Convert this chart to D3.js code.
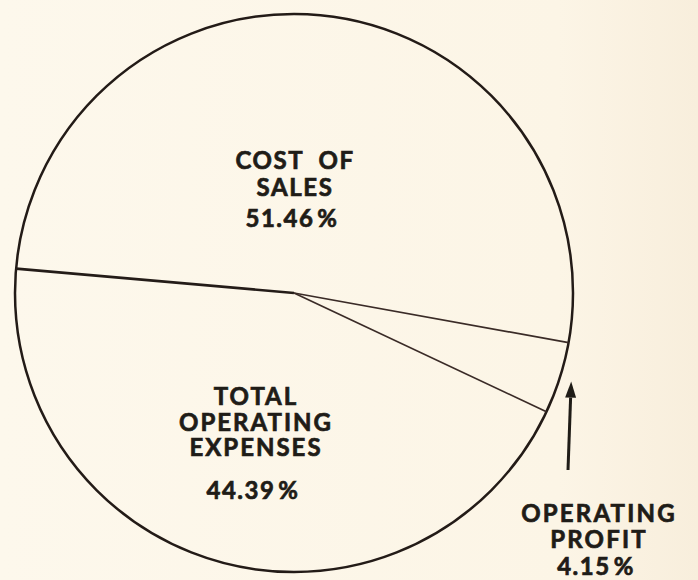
<!DOCTYPE html>
<html>
<head>
<meta charset="utf-8">
<script src="https://cdn.jsdelivr.net/npm/d3@7/dist/d3.min.js"></script>
<style>
  html, body { margin: 0; padding: 0; background: #fcf6e9; }
  svg { display: block; }
  text { font-family: Lato, "Open Sans", sans-serif; font-weight: 700; fill: #1f1c17; stroke: #1f1c17; stroke-width: 0.7; white-space: pre; }
</style>
</head>
<body>
<svg id="chart" width="698" height="580"></svg>
<script>
// Share of sales (percent), in clockwise order from the left boundary
const categories = ["Cost of Sales", "Operating Profit", "Total Operating Expenses"];
const shares = [51.46, 4.15, 44.39];
const labelLines = [["COST  OF", "SALES"], ["OPERATING", "PROFIT"], ["TOTAL", "OPERATING", "EXPENSES"]];

const W = 698, H = 580;
const cx = 294, cy = 293, R = 279;
const startDeg = 275;

const svg = d3.select("#chart");

// paper tone, slightly darker towards the right edge
const defs = svg.append("defs");
const grad = defs.append("linearGradient").attr("id", "paper").attr("x1", "0").attr("x2", "1");
grad.append("stop").attr("offset", "0").attr("stop-color", "#fdf8ec");
grad.append("stop").attr("offset", "0.8").attr("stop-color", "#fcf5e6");
grad.append("stop").attr("offset", "1").attr("stop-color", "#f8eedc");
svg.append("rect").attr("width", W).attr("height", H).attr("fill", "url(#paper)");

const start = startDeg * Math.PI / 180;
const pie = d3.pie().sort(null).value(d => d).startAngle(start).endAngle(start + 2 * Math.PI);
const arcs = pie(shares);

const g = svg.append("g").attr("transform", `translate(${cx},${cy})`);

// slices (unfilled), then outline and radial dividers
const arc = d3.arc().innerRadius(0).outerRadius(R);
g.selectAll("path.slice").data(arcs).join("path")
  .attr("class", "slice")
  .attr("d", arc)
  .attr("fill", "none");

g.append("circle").attr("r", R)
  .attr("fill", "none").attr("stroke", "#231b17").attr("stroke-width", 2.5);

const dividerWidth = [2.7, 1.7, 1.7];
const dividerColor = ["#241c18", "#3a2b27", "#3a2b27"];
g.selectAll("line.divider").data(arcs).join("line")
  .attr("class", "divider")
  .attr("x1", 0).attr("y1", 0)
  .attr("x2", d => d3.pointRadial(d.startAngle, R)[0])
  .attr("y2", d => d3.pointRadial(d.startAngle, R)[1])
  .attr("stroke", (d, i) => dividerColor[i])
  .attr("stroke-width", (d, i) => dividerWidth[i]);

// label blocks: centre x, first baseline, line step, gap to percent line
const labelLayout = [
  { x: 295, y: 169, step: 27, gap: 31, spacing: 1.6 },
  { x: 599, y: 521.5, step: 26.7, gap: 26.7, spacing: 2.2 },
  { x: 256, y: 405, step: 25.5, gap: 42.5, spacing: 2 }
];
const fmt = d3.format(".2f");
const FS = 24;

arcs.forEach((a, i) => {
  const L = labelLayout[i];
  const block = svg.append("g");
  const lines = labelLines[i];
  lines.forEach((t, k) => {
    block.append("text")
      .attr("x", L.x).attr("y", L.y + k * L.step)
      .attr("text-anchor", "middle")
      .attr("font-size", FS)
      .attr("letter-spacing", L.spacing)
      .text(t);
  });
  const pct = block.append("text")
    .attr("x", L.x - 3).attr("y", L.y + (lines.length - 1) * L.step + L.gap)
    .attr("text-anchor", "middle")
    .attr("font-size", FS)
    .attr("letter-spacing", 1.5);
  pct.append("tspan").text(fmt(a.data));
  pct.append("tspan").attr("dx", 3).text("%");
});

// arrow from the profit label up to its thin slice
const profit = arcs[1];
const mid = (profit.startAngle + profit.endAngle) / 2;
const tipP = d3.pointRadial(mid, R + 12);
const tip = [cx + tipP[0], cy + tipP[1]];
const tail = [568, 470];
const ang = Math.atan2(tip[1] - tail[1], tip[0] - tail[0]);
const headLen = 16, headHalf = 5.5;
const base = [tip[0] - headLen * Math.cos(ang), tip[1] - headLen * Math.sin(ang)];
svg.append("line")
  .attr("x1", tail[0]).attr("y1", tail[1])
  .attr("x2", base[0]).attr("y2", base[1])
  .attr("stroke", "#1f1c17").attr("stroke-width", 3);
svg.append("path")
  .attr("d", d3.line()([
    tip,
    [base[0] + headHalf * Math.sin(ang), base[1] - headHalf * Math.cos(ang)],
    [base[0] - headHalf * Math.sin(ang), base[1] + headHalf * Math.cos(ang)]
  ]) + "Z")
  .attr("fill", "#1f1c17");
</script>
</body>
</html>
